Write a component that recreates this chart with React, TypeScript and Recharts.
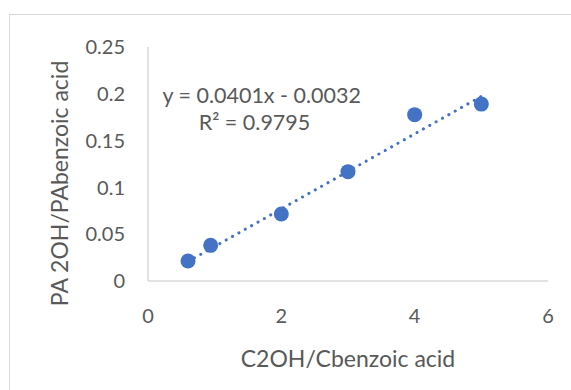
import React from "react";
import { ScatterChart, Scatter, XAxis, YAxis, ReferenceLine } from "recharts";

const xValues = [0.6, 0.94, 2, 3, 4, 5];
const yValues = [0.0214, 0.0381, 0.0716, 0.1168, 0.1777, 0.189];
const xTicks = [0, 2, 4, 6];
const yTicks = [0, 0.05, 0.1, 0.15, 0.2, 0.25];
const slope = 0.0401;
const intercept = -0.0032;
const rSquared = 0.9795;
const trendRange = [0.6, 5];
const xTitle = "C2OH/Cbenzoic acid";
const yTitle = "PA 2OH/PAbenzoic acid";

const points = xValues.map((x, i) => ({ x, y: yValues[i] }));
const trendSegment = trendRange.map((x) => ({ x, y: slope * x + intercept }));

const FONT = "Lato, 'Open Sans', sans-serif";
const BLUE = "#4472C4";
const TEXT = "#595959";
const AXIS = "#d9d9d9";

const Dot = (props: any) => (
  <circle cx={props.cx} cy={props.cy} r={7.5} fill={BLUE} />
);

export default function App() {
  return (
    <div
      style={{
        position: "absolute",
        left: 0,
        top: 0,
        width: 571,
        height: 390,
        overflow: "hidden",
        background: "#fff",
      }}
    >
      <div
        style={{
          position: "absolute",
          left: 9,
          top: 14,
          width: 620,
          height: 420,
          border: "1px solid #d9d9d9",
        }}
      />
      <div style={{ position: "absolute", left: 0, top: 0 }}>
        <ScatterChart
          width={571}
          height={390}
          margin={{ top: 47, right: 23, bottom: 79, left: 88 }}
          style={{ fontFamily: FONT }}
        >
          <XAxis
            type="number"
            dataKey="x"
            domain={[0, 6]}
            ticks={xTicks}
            height={30}
            axisLine={{ stroke: AXIS, strokeWidth: 1.5 }}
            tickLine={false}
            tickMargin={22}
            tick={{ fill: TEXT, fontSize: 20, fontFamily: FONT }}
            allowDataOverflow
          />
          <YAxis
            type="number"
            dataKey="y"
            domain={[0, 0.25]}
            ticks={yTicks}
            width={60}
            axisLine={{ stroke: AXIS, strokeWidth: 1.5 }}
            tickLine={false}
            tickMargin={17}
            tick={{ fill: TEXT, fontSize: 20, fontFamily: FONT }}
            allowDataOverflow
          />
          <ReferenceLine
            segment={trendSegment}
            stroke={BLUE}
            strokeWidth={3}
            strokeDasharray="0.1 7.2"
            strokeLinecap="round"
            ifOverflow="visible"
          />
          <Scatter data={points} fill={BLUE} shape={Dot} isAnimationActive={false} />
          <text
            x={348}
            y={358}
            textAnchor="middle"
            dominantBaseline="central"
            fill={TEXT}
            fontSize={23}
            fontFamily={FONT}
          >
            {xTitle}
          </text>
          <text
            x={59}
            y={183.5}
            textAnchor="middle"
            dominantBaseline="central"
            fill={TEXT}
            fontSize={23}
            fontFamily={FONT}
            transform="rotate(-90 59 183.5)"
          >
            {yTitle}
          </text>
          <text
            x={261.7}
            y={95}
            textAnchor="middle"
            dominantBaseline="central"
            fill={TEXT}
            fontSize={21.5}
            fontFamily={FONT}
          >
            {`y = ${slope}x - ${Math.abs(intercept)}`}
          </text>
          <text
            x={254.5}
            y={121.7}
            textAnchor="middle"
            dominantBaseline="central"
            fill={TEXT}
            fontSize={21.5}
            fontFamily={FONT}
          >
            {`R² = ${rSquared}`}
          </text>
        </ScatterChart>
      </div>
    </div>
  );
}
